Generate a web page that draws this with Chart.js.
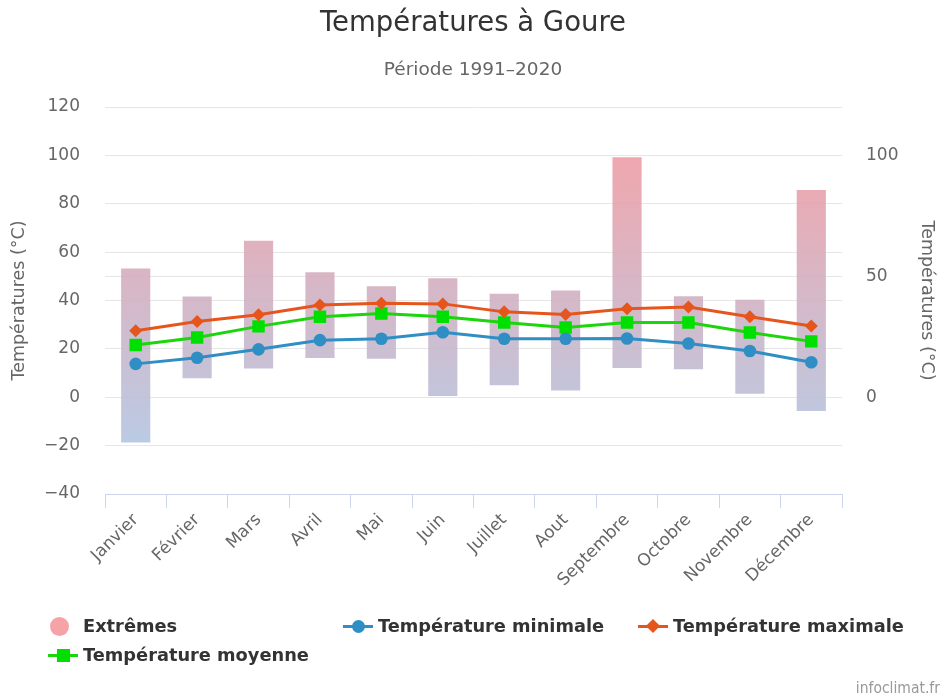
<!DOCTYPE html>
<html>
<head>
<meta charset="utf-8">
<script src="https://cdn.jsdelivr.net/npm/chart.js@4.4.0/dist/chart.umd.min.js"></script>
<style>
html,body{margin:0;padding:0;background:#fff;}
#wrap{position:relative;width:946px;height:698px;overflow:hidden;}
#c{position:absolute;left:0;top:0;}
.lg{position:absolute;font-family:"DejaVu Sans",sans-serif;font-weight:bold;font-size:17.8px;color:#333;white-space:nowrap;line-height:20px;height:20px;}
.mk{position:absolute;top:0;width:30px;height:20px;}
.ln{position:absolute;left:0;top:8.5px;width:30px;height:3px;}
.credit{position:absolute;right:6px;top:679px;font-family:"DejaVu Sans Condensed","DejaVu Sans",sans-serif;font-size:15.5px;color:#999;}
</style>
</head>
<body>
<div id="wrap">
<canvas id="c" width="946" height="698"></canvas>
<div class="credit">infoclimat.fr</div>
</div>
<script>
const months = ['Janvier','Février','Mars','Avril','Mai','Juin','Juillet','Aout','Septembre','Octobre','Novembre','Décembre'];
const extremeLow  = [-18.7, 7.9, 11.9, 16.2, 15.9, 0.5, 5.0, 2.8, 12.1, 11.6, 1.4, -5.7];
const extremeHigh = [53.2, 41.7, 64.7, 51.7, 45.9, 49.2, 42.8, 44.1, 99.2, 41.8, 40.3, 85.7];
const tMin  = [13.8, 16.3, 19.8, 23.6, 24.2, 26.9, 24.2, 24.2, 24.3, 22.2, 19.1, 14.5];
const tMean = [21.6, 24.7, 29.3, 33.3, 34.6, 33.3, 30.9, 28.8, 30.9, 30.9, 26.8, 23.1];
const tMax  = [27.5, 31.3, 34.1, 38.1, 38.9, 38.6, 35.3, 34.2, 36.6, 37.3, 33.3, 29.5];
const leftTicks  = [-40, -20, 0, 20, 40, 60, 80, 100, 120];
const rightTicks = [0, 50, 100];
const seriesNames = ['Extrêmes', 'Température minimale', 'Température maximale', 'Température moyenne'];

const C_MIN = '#2f8fc4', C_MAX = '#e6561c', C_MEAN = '#1cd50a', C_MEAN_PT = '#00e000';
const FONT = '"DejaVu Sans", sans-serif';
const fmt = (v) => (v < 0 ? '\u2212' + Math.abs(v) : String(v));

function barGradient(ctx) {
  const chart = ctx.chart;
  const a = chart.chartArea;
  if (!a) return 'rgba(0,0,0,0)';
  const g = chart.ctx.createLinearGradient(0, a.top, 0, a.bottom);
  g.addColorStop(0, 'rgba(248,150,154,0.9)');
  g.addColorStop(1, 'rgba(168,204,236,0.9)');
  return g;
}

const chart = new Chart(document.getElementById('c'), {
  data: {
    labels: months,
    datasets: [
      {
        type: 'bar', label: seriesNames[0], order: 10,
        data: extremeLow.map((lo, i) => [lo, extremeHigh[i]]),
        backgroundColor: barGradient, borderWidth: 0,
        barPercentage: 0.95, categoryPercentage: 0.5, yAxisID: 'y'
      },
      {
        type: 'line', label: seriesNames[1], order: 1, data: tMin,
        borderColor: C_MIN, backgroundColor: C_MIN, borderWidth: 3,
        pointStyle: 'circle', pointRadius: 6.3, pointBorderWidth: 0, tension: 0, yAxisID: 'y'
      },
      {
        type: 'line', label: seriesNames[2], order: 1, data: tMax,
        borderColor: C_MAX, backgroundColor: C_MAX, borderWidth: 3,
        pointStyle: 'rectRot', pointRadius: 6.5, pointBorderWidth: 0, tension: 0, yAxisID: 'y'
      },
      {
        type: 'line', label: seriesNames[3], order: 1, data: tMean,
        borderColor: C_MEAN, backgroundColor: C_MEAN_PT, borderWidth: 3,
        pointStyle: 'rect', pointRadius: 8.8, pointBorderWidth: 0, tension: 0, yAxisID: 'y'
      }
    ]
  },
  options: {
    responsive: false, animation: false, devicePixelRatio: 1,
    layout: { padding: 0 },
    plugins: {
      legend: { display: false },
      tooltip: { enabled: false },
      title: {
        display: true, text: 'Températures à Goure', color: '#333',
        font: { family: FONT, size: 27.5, weight: 'normal' },
        padding: { top: 7.5, bottom: 8 }
      },
      subtitle: {
        display: true, text: 'Période 1991\u20132020', color: '#666',
        font: { family: FONT, size: 18.5, weight: 'normal' },
        padding: { top: 10.4, bottom: 25.9 }
      }
    },
    scales: {
      x: {
        offset: true,
        grid: { offset: true, drawOnChartArea: false, drawTicks: true, tickLength: 14, color: '#ccd6eb', lineWidth: 1 },
        border: { display: true, color: '#ccd6eb', width: 1 },
        ticks: { color: '#666', font: { family: FONT, size: 17 }, minRotation: 45, maxRotation: 45, padding: 2, autoSkip: false },
        afterFit: (s) => { s.height = 698 - 494; }
      },
      y: {
        position: 'left', min: -40, max: 120,
        afterBuildTicks: (s) => { s.ticks = leftTicks.map(v => ({ value: v })); },
        grid: { color: '#e6e6e6', drawTicks: false, lineWidth: 1 },
        border: { display: false },
        ticks: { color: '#666', font: { family: FONT, size: 17 }, padding: 25, callback: fmt },
        title: { display: true, text: 'Températures (°C)', color: '#666', font: { family: FONT, size: 17.5 }, padding: { top: 9, bottom: 0 } },
        afterFit: (s) => { s.width = 105; }
      },
      y2: {
        position: 'right', min: -40, max: 120,
        afterBuildTicks: (s) => { s.ticks = rightTicks.map(v => ({ value: v })); },
        grid: { color: '#e6e6e6', drawTicks: false, lineWidth: 1 },
        border: { display: false },
        ticks: { color: '#666', font: { family: FONT, size: 17 }, padding: 24, callback: fmt },
        title: { display: true, text: 'Températures (°C)', color: '#666', font: { family: FONT, size: 17.5 }, padding: { top: 9, bottom: 0 } },
        afterFit: (s) => { s.width = 946 - 842; }
      }
    }
  }
});

// HTML legend built from the chart's datasets
const legendPos = [
  { x: 50, y: 616 },  // Extrêmes
  { x: 343, y: 616 }, // minimale
  { x: 638, y: 616 }, // maximale
  { x: 48, y: 645 }   // moyenne
];
const wrap = document.getElementById('wrap');
chart.data.datasets.forEach((ds, i) => {
  const p = legendPos[i];
  const item = document.createElement('div');
  item.className = 'lg';
  item.style.left = p.x + 'px';
  item.style.top = p.y + 'px';
  const mk = document.createElement('div');
  mk.className = 'mk';
  let textLeft = 35;
  if (ds.type === 'bar') {
    mk.innerHTML = '<div style="position:absolute;left:0;top:0.5px;width:19px;height:19px;border-radius:50%;background:#f5a3a6"></div>';
    textLeft = 33;
  } else {
    let m = '';
    if (ds.pointStyle === 'circle') m = '<div style="position:absolute;left:8.5px;top:3.5px;width:13px;height:13px;border-radius:50%;background:' + ds.backgroundColor + '"></div>';
    if (ds.pointStyle === 'rectRot') m = '<div style="position:absolute;left:10px;top:5px;width:10px;height:10px;transform:rotate(45deg);background:' + ds.backgroundColor + '"></div>';
    if (ds.pointStyle === 'rect') m = '<div style="position:absolute;left:8.5px;top:3.5px;width:13px;height:13px;background:' + ds.backgroundColor + '"></div>';
    mk.innerHTML = '<div class="ln" style="background:' + ds.borderColor + '"></div>' + m;
  }
  item.appendChild(mk);
  const t = document.createElement('span');
  t.textContent = ds.label;
  t.style.position = 'absolute';
  t.style.left = textLeft + 'px';
  t.style.top = '0';
  item.appendChild(t);
  wrap.appendChild(item);
});
</script>
</body>
</html>
